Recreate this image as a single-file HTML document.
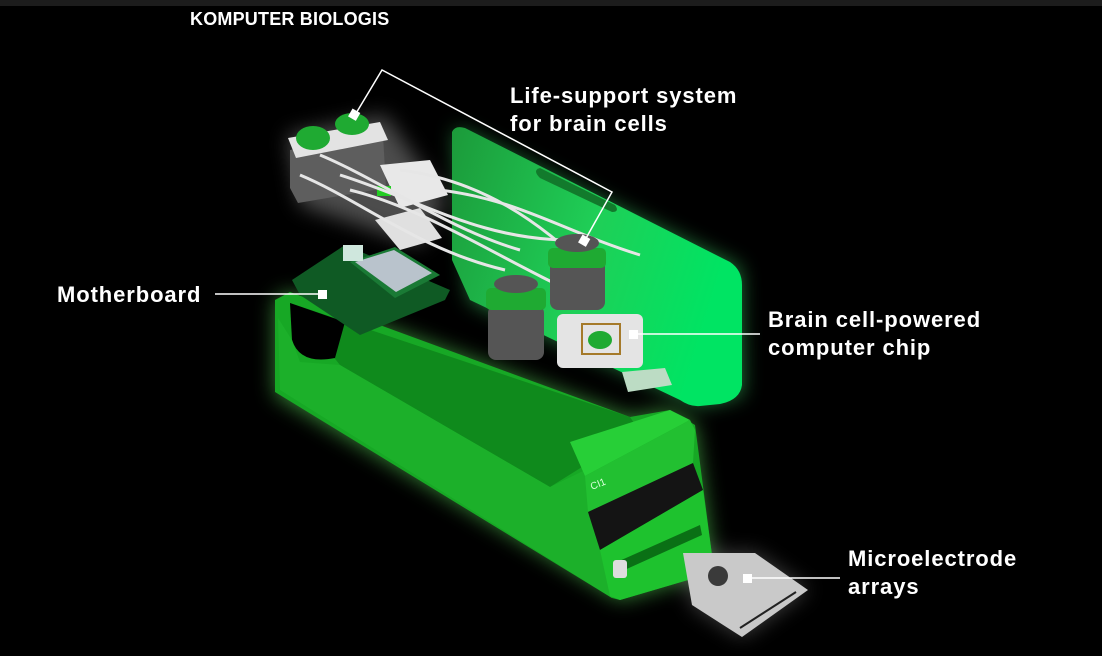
<!DOCTYPE html>
<html><head><meta charset="utf-8"><style>
html,body{margin:0;padding:0;background:#000;}
body{width:1102px;height:656px;overflow:hidden;position:relative;font-family:"Liberation Sans",sans-serif;}
.bar{position:absolute;left:0;top:0;width:1102px;height:6px;background:#1c1c1c;}
.t{position:absolute;color:#fff;font-weight:bold;font-size:22px;line-height:28px;letter-spacing:0.9px;}
</style></head><body>
<div class="bar"></div>
<svg width="1102" height="656" style="position:absolute;left:0;top:0">
<defs>
<filter id="glow" x="-20%" y="-20%" width="140%" height="140%"><feGaussianBlur stdDeviation="10"/></filter>
<linearGradient id="pg" x1="0" y1="0" x2="1" y2="0.3"><stop offset="0" stop-color="#1c9a3a"/><stop offset="0.55" stop-color="#1fcf57"/><stop offset="1" stop-color="#00e463"/></linearGradient>
</defs>
<!-- glow -->
<g filter="url(#glow)" opacity="0.5">
<polygon points="455,128 740,268 742,395 700,405 470,300" fill="#4dff80"/>
<polygon points="275,300 290,292 630,417 670,410 695,425 712,555 705,575 620,600 275,395" fill="#6bff6b"/>
<polygon points="288,135 385,115 445,200 420,245 300,205" fill="#ffffff" opacity="0.6"/>
<polygon points="683,553 755,553 808,590 742,637 692,605" fill="#fff" opacity="0.5"/>
</g>
<!-- back panel -->
<path d="M452,132 Q455,125 465,128 L730,262 Q742,270 742,285 L742,385 Q740,400 720,404 L700,406 Q690,407 680,400 L470,300 L452,260 Z" fill="url(#pg)"/>
<path d="M540,168 L615,205 Q620,212 612,212 L540,178 Q532,170 540,168Z" fill="#127a2c"/>
<!-- tray silhouette -->
<polygon points="275,300 290,292 630,417 670,410 695,425 712,555 705,575 620,600 612,598 275,392" fill="#17a825"/>
<!-- interior floor -->
<polygon points="290,303 630,417 640,432 590,462 550,487 340,365" fill="#0f8a1c"/>
<path d="M290,303 L345,322 L335,358 Q300,365 292,340 Z" fill="#000"/>
<!-- near wall -->
<polygon points="278,318 292,340 300,362 340,365 550,487 585,470 600,550 612,598 280,390" fill="#1cb02a"/>
<!-- front block -->
<polygon points="570,442 670,410 690,420 585,476" fill="#27cf37"/>
<polygon points="585,476 690,420 695,430 693,463 588,512" fill="#22c031"/>
<polygon points="588,512 693,463 703,490 600,550" fill="#141414"/>
<polygon points="600,550 703,490 712,555 705,575 620,600 610,596" fill="#1ec22e"/>
<polygon points="617,562 700,525 702,535 620,572" fill="#0a7015"/>
<rect x="613" y="560" width="14" height="18" rx="3" fill="#ddd"/>
<text x="592" y="490" font-size="10" fill="#d8ffd8" font-family="Liberation Sans" transform="rotate(-22 592 490)">CI1</text>
<!-- microelectrode -->
<polygon points="683,553 755,553 808,590 742,637 692,605" fill="#c9c9c9"/>
<circle cx="718" cy="576" r="10" fill="#3a3a3a"/>
<line x1="740" y1="628" x2="796" y2="592" stroke="#222" stroke-width="2"/>
<!-- motherboard -->
<polygon points="292,280 345,245 450,290 445,300 360,335 300,295" fill="#0f5a24"/>
<polygon points="350,262 395,247 440,275 395,298" fill="#1a7a35"/>
<polygon points="355,262 394,250 432,273 396,292" fill="#b9c3cc"/>
<rect x="343" y="245" width="20" height="16" fill="#cfe7dd"/>
<!-- pumps -->
<polygon points="290,150 383,135 386,188 298,203 290,188" fill="#5e5e5e"/>
<polygon points="288,138 380,122 388,140 296,158" fill="#e3e3e3"/>
<ellipse cx="313" cy="138" rx="17" ry="12" fill="#1faa32"/>
<ellipse cx="352" cy="124" rx="17" ry="11" fill="#1faa32"/>
<!-- manifolds -->
<polygon points="380,165 430,160 448,195 400,208" fill="#e8e8e8"/>
<polygon points="375,220 420,208 442,238 400,250" fill="#e0e0e0"/>
<rect x="377" y="186" width="14" height="10" fill="#2c2"/>
<!-- tubes -->
<g fill="none" stroke="#e6e6e6" stroke-width="3">
<path d="M320,155 C380,180 450,230 520,250"/>
<path d="M340,175 C420,200 480,240 570,240"/>
<path d="M350,190 C430,210 500,260 590,300"/>
<path d="M300,175 C360,200 420,250 505,270"/>
<path d="M440,190 C520,200 560,230 640,255"/>
<path d="M400,170 C480,180 540,220 600,280"/>
</g>
<!-- bottles -->
<rect x="488" y="305" width="56" height="55" rx="8" fill="#555"/>
<rect x="486" y="288" width="60" height="22" rx="5" fill="#1faa32"/>
<ellipse cx="516" cy="284" rx="22" ry="9" fill="#555"/>
<rect x="550" y="258" width="55" height="52" rx="8" fill="#555"/>
<rect x="548" y="248" width="58" height="20" rx="5" fill="#1faa32"/>
<ellipse cx="577" cy="243" rx="22" ry="9" fill="#555"/>
<!-- chip -->
<rect x="557" y="314" width="86" height="54" rx="6" fill="#e4e4e4"/>
<rect x="582" y="324" width="38" height="30" fill="none" stroke="#a57a2a" stroke-width="2"/>
<ellipse cx="600" cy="340" rx="12" ry="9" fill="#1faa32"/>
<polygon points="622,372 665,368 672,385 628,392" fill="#bcdcc4"/>
<!-- leaders -->
<g stroke="#fff" stroke-width="1.5" fill="none">
<polyline points="355,115 382,70 612,192 585,240"/>
<line x1="215" y1="294" x2="322" y2="294"/>
<line x1="634" y1="334" x2="760" y2="334"/>
<line x1="748" y1="578" x2="840" y2="578"/>
</g>
<g fill="#fff">
<rect x="350" y="110" width="9" height="9" transform="rotate(30 354 114)"/>
<rect x="580" y="236" width="9" height="9" transform="rotate(30 584 240)"/>
<rect x="318" y="290" width="9" height="9"/>
<rect x="629" y="330" width="9" height="9"/>
<rect x="743" y="574" width="9" height="9"/>
</g>
</svg>
<div class="t" style="left:190px;top:8px;font-size:18px;line-height:22px;letter-spacing:0.2px">KOMPUTER BIOLOGIS</div>
<div class="t" style="left:510px;top:82px">Life-support system<br>for brain cells</div>
<div class="t" style="left:57px;top:281px">Motherboard</div>
<div class="t" style="left:768px;top:306px">Brain cell-powered<br>computer chip</div>
<div class="t" style="left:848px;top:545px">Microelectrode<br>arrays</div>
</body></html>
